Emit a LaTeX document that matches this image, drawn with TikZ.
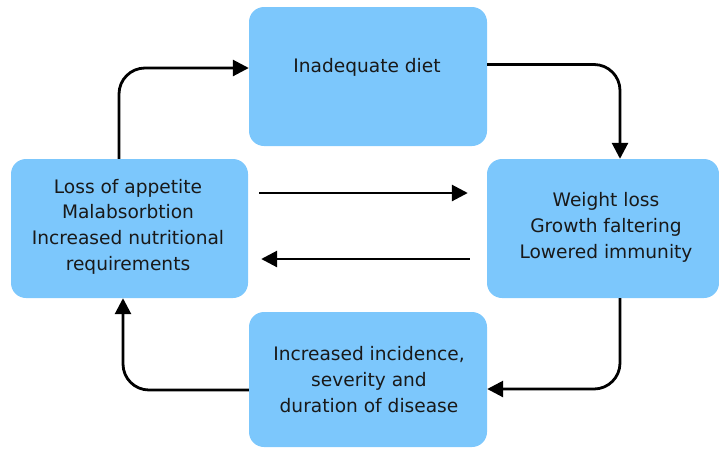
\documentclass[tikz,border=0pt]{standalone}
\usepackage{fontspec}
\setmainfont{DejaVu Sans}
\usetikzlibrary{arrows.meta}
\definecolor{boxblue}{RGB}{124,199,252}
\definecolor{txt}{RGB}{25,25,25}
\begin{document}
\begin{tikzpicture}[x=1pt,y=-1pt,
  cbox/.style={draw=none,fill=boxblue,rounded corners=15pt,inner sep=0pt},
  lbl/.style={align=center,text=txt,font=\fontsize{18.6}{25.7}\selectfont,inner sep=0pt},
  arr/.style={line width=2.8pt,rounded corners=26pt,-{Triangle[length=16pt,width=16pt]}}]
\useasboundingbox (0,0) rectangle (719,448);
\node[cbox,minimum width=238pt,minimum height=139pt] (tbox) at (368,76.5) {};
\node[cbox,minimum width=237pt,minimum height=139pt] (lbox) at (129.5,228.5) {};
\node[cbox,minimum width=232pt,minimum height=139pt] (rbox) at (603,228.5) {};
\node[cbox,minimum width=238pt,minimum height=135pt] (bbox) at (368,379.5) {};
\node[lbl] (ttxt) at (367,67) {Inadequate diet};
\node[lbl] (ltxt) at (128,226.5) {Loss of appetite\\Malabsorbtion\\Increased nutritional\\requirements};
\node[lbl] (rtxt) at (606,227.5) {Weight loss\\Growth faltering\\Lowered immunity};
\node[lbl] (btxt) at (369,379.5) {Increased incidence,\\severity and\\duration of disease};
\draw[arr] ([xshift=-10.5pt]lbox.north) |- ([yshift=8.5pt]tbox.west);
\draw[arr] ([yshift=12pt]tbox.east) -| ([xshift=17pt]rbox.north);
\draw[arr] ([xshift=17pt]rbox.south) |- ([yshift=-9.5pt]bbox.east);
\draw[arr] ([yshift=-10.5pt]bbox.west) -| ([xshift=-6.5pt]lbox.south);
\draw[arr] ([xshift=11pt,yshift=35.5pt]lbox.east) -- ([xshift=-19pt,yshift=35.5pt]rbox.west);
\draw[arr] ([xshift=-17pt,yshift=-30.5pt]rbox.west) -- ([xshift=13pt,yshift=-30.5pt]lbox.east);
\end{tikzpicture}
\end{document}
